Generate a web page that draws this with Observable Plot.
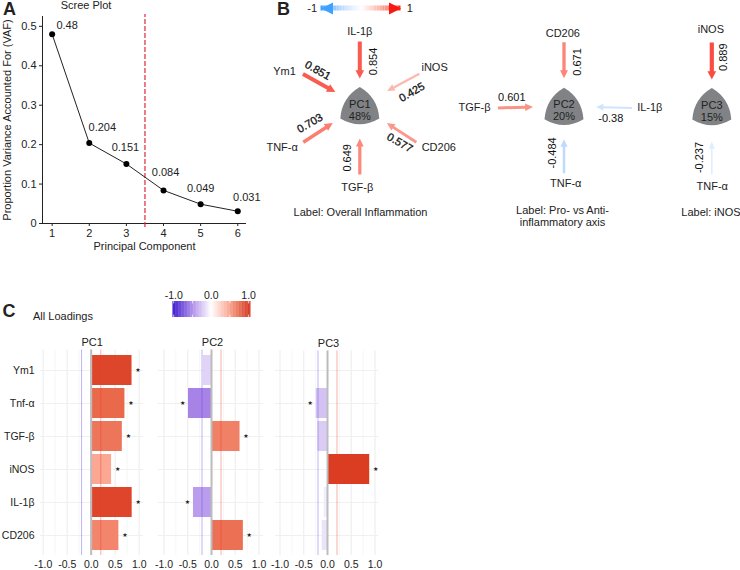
<!DOCTYPE html>
<html><head><meta charset="utf-8">
<script src="https://cdn.jsdelivr.net/npm/d3@7"></script>
<script src="https://cdn.jsdelivr.net/npm/@observablehq/plot@0.6"></script>
<style>
html,body{margin:0;padding:0;background:#fff;overflow:hidden}
#fig{position:relative;width:740px;height:570px;overflow:hidden;font-family:"Liberation Sans",Arial,sans-serif;color:#222}
#fig svg{position:absolute;overflow:visible}
.t{position:absolute;white-space:nowrap;font-size:11px;line-height:1;transform:translate(-50%,-50%)}
.l{position:absolute;font-weight:bold;font-size:18px;line-height:1;color:#222;transform:translate(-50%,-50%)}
</style></head><body><div id="fig"></div>
<script>
// ---- data ----
const components = [1, 2, 3, 4, 5, 6];
const vaf = [0.48, 0.204, 0.151, 0.084, 0.049, 0.031];
const pcNames = ["PC1", "PC2", "PC3"];
const pcShare = ["48%", "20%", "15%"];
const rowLabels = ["Ym1", "Tnf-α", "TGF-β", "iNOS", "IL-1β", "CD206"];
const nodeLabels = ["Ym1", "TNF-α", "TGF-β", "iNOS", "IL-1β", "CD206"];
const pc1Loadings = [0.851, 0.703, 0.649, 0.425, 0.854, 0.577];
const pc2Loadings = [-0.17, -0.484, 0.601, 0.05, -0.38, 0.671];
const pc3Loadings = [0.04, -0.237, -0.2, 0.889, -0.07, -0.11];
const pc1Stars = [1, 1, 1, 1, 1, 1];
const pc2Stars = [0, 1, 1, 0, 1, 1];
const pc3Stars = [0, 1, 0, 1, 0, 0];
const loadingTicks = [-1, -0.5, 0, 0.5, 1];

// ---- layout and style ----
const font = '"Liberation Sans",Arial,sans-serif';
const ink = "#222";
const fig = document.getElementById("fig");
function place(node, left, top) { node.style.left = left + "px"; node.style.top = top + "px"; fig.appendChild(node); }
function caption(text, cx, cy, cls = "t", size) {
  const d = document.createElement("div"); d.className = cls; d.textContent = text;
  d.style.left = cx + "px"; d.style.top = cy + "px"; if (size) d.style.fontSize = size + "px"; fig.appendChild(d);
}
const baseStyle = size => ({fontFamily: font, fontSize: size + "px", background: "transparent", color: ink, overflow: "visible"});

// ---- A: scree plot ----
const labelDx = [15, 13, -1, 2, 0, 9];
const labelDy = [-8.5, -15.6, -16.5, -18, -16, -14];
const scree = components.map((c, i) => ({c, v: vaf[i], dx: labelDx[i], dy: labelDy[i]}));
const screePlot = Plot.plot({
  width: 260, height: 260, marginLeft: 42, marginRight: 14, marginTop: 16, marginBottom: 37,
  style: baseStyle(11),
  x: {domain: [0.74, 6.235]},
  y: {domain: [0, 0.525]},
  marks: [
    Plot.ruleX([0.74], {stroke: ink}),
    Plot.ruleY([0], {stroke: ink}),
    Plot.axisX(components, {tickSize: 3, tickPadding: 3, fontSize: 11, stroke: ink, label: "Principal Component", labelAnchor: "center", labelArrow: "none", labelOffset: 26, tickFormat: d => d}),
    Plot.axisY([0, 0.1, 0.2, 0.3, 0.4, 0.5], {tickSize: 3, tickPadding: 3, fontSize: 11, stroke: ink, label: "Proportion Variance Accounted For (VAF)", labelAnchor: "center", labelArrow: "none", labelOffset: 39, tickFormat: d => d === 0 ? "0" : d.toFixed(1)}),
    Plot.ruleX([3.5], {y1: -0.01, y2: 0.53, stroke: "#e2283f", strokeDasharray: "5 2", strokeWidth: 1.2}),
    Plot.line(scree, {x: "c", y: "v", stroke: ink, strokeWidth: 1}),
    Plot.dot(scree, {x: "c", y: "v", r: 3, fill: "#000"}),
    ...scree.map(d => Plot.text([d], {x: "c", y: "v", text: e => String(e.v), dx: d.dx, dy: d.dy, fontSize: 11, fill: ink}))
  ]
});
place(screePlot, 0, 0);
caption("Scree Plot", 86, 5);
caption("A", 9.5, 9, "l");
caption("B", 283.5, 9, "l");
caption("C", 9, 311, "l");
caption("All Loadings", 63, 316);

// ---- B: loading networks ----
const pcCenters = [{x: 97.3, y: 105}, {x: 301.5, y: 105.7}, {x: 449.3, y: 106}];
const netColor = {type: "linear", clamp: true, domain: [-1, -0.45, 0, 0.42, 0.7, 0.86, 1], range: ["#3ea0ff", "#c6dfff", "#ffffff", "#fdb9ad", "#fb7f70", "#fb5a4e", "#f81a12"]};
const polar = (c, a, r) => ({x: c.x + r * Math.sin(a * Math.PI / 180), y: c.y - r * Math.cos(a * Math.PI / 180)});
// [pc, variable, arrow angle, inner, outer, name angle, name radius, value angle, value radius, value rotation]
const edgeLayout = [
  [0, 4, 0, 27, 64, 0, 74, 17.7, 46.2, -90],
  [0, 0, -61, 28, 65, -65.5, 82.7, -50.2, 54.7, 30],
  [0, 3, 62, 31, 67.5, 62.9, 84, 75.7, 53.7, -30],
  [0, 1, -123, 32.3, 67.4, -118.2, 88.1, -109.5, 53, -30],
  [0, 5, 123, 32.3, 67.4, 118.2, 89.6, 133, 54.7, 30],
  [0, 2, 180, 33, 69, 181.8, 81.7, 192.9, 53.7, -90],
  [1, 5, 0, 28, 64, -0.9, 73, 17, 46.3, -90],
  [1, 2, -91.5, 31, 66, -91.1, 89.5, -80.2, 53, 0],
  [1, 4, 91.5, 32, 68, 91.1, 85.8, 104.7, 48.4, 0],
  [1, 1, 180, 33, 67, 178.7, 77.7, -165.8, 48.2, -90],
  [2, 3, 0, 27, 64, -0.7, 76.7, 13.7, 50.7, -90],
  [2, 1, 180, 35, 68, 179.7, 80, -166.4, 52.5, -90]
];
const allLoadings = [pc1Loadings, pc2Loadings, pc3Loadings];
const edges = edgeLayout.map(([p, v, a, rin, rout, na, nr, va, vr, rot]) => {
  const c = pcCenters[p], value = allLoadings[p][v];
  return {value, name: nodeLabels[v], a, len: rout - rin, start: polar(c, a, rout), nameAt: polar(c, na, nr), valueAt: polar(c, va, vr), rot,
          heavy: p === 0 && rot !== -90};
});
const arrowShape = {draw(ctx, l, r) {
  const hl = 6.5 + r * 0.9, hw = r + 2.3;
  ctx.moveTo(-r, 0); ctx.lineTo(-r, -l + hl); ctx.lineTo(-hw, -l + hl); ctx.lineTo(0, -l);
  ctx.lineTo(hw, -l + hl); ctx.lineTo(r, -l + hl); ctx.lineTo(r, 0); ctx.closePath();
}};
const legendHead = {draw(ctx, l) { ctx.moveTo(0, -l); ctx.lineTo(6, 0); ctx.lineTo(-6, 0); ctx.closePath(); }};
const pcShape = {draw(ctx, size) {
  const s = Math.sqrt(size / Math.PI) / 20;
  ctx.moveTo(0, -18.5 * s);
  ctx.quadraticCurveTo(18 * s, -8 * s, 19.5 * s, 13 * s);
  ctx.quadraticCurveTo(0, 24.5 * s, -19.5 * s, 13 * s);
  ctx.quadraticCurveTo(-18 * s, -8 * s, 0, -18.5 * s);
  ctx.closePath();
}};
const legendX = v => 98.5 + v * 40;
const legendSteps = d3.range(-1, 1, 0.04);
const pcNodes = pcNames.map((n, i) => ({...pcCenters[i], n, share: pcShare[i]}));
const labelNotes = [
  {x: 98, y: 212, t: "Label: Overall Inflammation"},
  {x: 300, y: 210, t: "Label: Pro- vs Anti-"},
  {x: 300, y: 222.3, t: "inflammatory axis"},
  {x: 448.5, y: 212, t: "Label: iNOS"}
];
const netPlot = Plot.plot({
  width: 478, height: 235, margin: 0, style: baseStyle(11),
  x: {domain: [0, 478], axis: null},
  y: {domain: [235, 0], axis: null},
  color: netColor,
  marks: [
    Plot.rect(legendSteps, {x1: d => legendX(d), x2: d => legendX(d + 0.04), y1: () => 5.5, y2: () => 10.5, fill: d => d}),
    Plot.vector([-1], {x: () => legendX(-0.7), y: () => 8, length: 12, rotate: -90, anchor: "start", shape: legendHead, fill: d => d, stroke: "none"}),
    Plot.vector([1], {x: () => legendX(0.7), y: () => 8, length: 12, rotate: 90, anchor: "start", shape: legendHead, fill: d => d, stroke: "none"}),
    Plot.text([-1, 1], {x: d => legendX(d * 1.22), y: () => 8.3, text: d => String(d), fontSize: 11, fill: ink}),
    ...edges.map(e => Plot.vector([e], {x: d => d.start.x, y: d => d.start.y, length: e.len, rotate: e.a + 180, anchor: "start", r: 0.3 + 2 * Math.abs(e.value), shape: arrowShape, fill: d => d.value, stroke: "none"})),
    Plot.dot(pcNodes, {x: "x", y: "y", r: 20, symbol: pcShape, fill: "#808285", stroke: "none"}),
    Plot.text(pcNodes, {x: "x", y: d => d.y - 1.5, text: "n", fontSize: 11, fill: ink}),
    Plot.text(pcNodes, {x: "x", y: d => d.y + 10.5, text: "share", fontSize: 11, fill: ink}),
    Plot.text(edges, {x: d => d.nameAt.x, y: d => d.nameAt.y, text: "name", fontSize: 11, fill: ink}),
    Plot.text(edges, {x: d => d.valueAt.x, y: d => d.valueAt.y, text: d => String(d.value), rotate: "rot", fontSize: 11, fill: "#111", stroke: d => d.heavy ? "#111" : "none", strokeWidth: 0.3, paintOrder: "normal"}),
    Plot.text(labelNotes, {x: "x", y: "y", text: "t", fontSize: 11, fill: ink})
  ]
});
place(netPlot, 262, 0);

// ---- C: all loadings ----
const barColor = {type: "linear", clamp: true, domain: [-1, -0.48, 0, 0.43, 0.7, 1], range: ["#2a00c8", "#a884e8", "#ffffff", "#fba692", "#ea6a4c", "#d2220a"]};
const panels = [
  {name: "PC1", values: pc1Loadings, stars: pc1Stars, left: 0, top: 325, marginLeft: 40, plotW: 103, domain: [-1.056, 1.09]},
  {name: "PC2", values: pc2Loadings, stars: pc2Stars, left: 150, top: 325, marginLeft: 8, plotW: 105, domain: [-1.116, 1.095]},
  {name: "PC3", values: pc3Loadings, stars: pc3Stars, left: 267, top: 326, marginLeft: 8, plotW: 103, domain: [-1.095, 1.074]}
];
panels.forEach((p, idx) => {
  const rows = rowLabels.map((r, i) => ({r, v: p.values[i], star: p.stars[i]}));
  const svg = Plot.plot({
    width: p.marginLeft + p.plotW + 14, height: 245 - (idx === 2 ? 1 : 0),
    marginLeft: p.marginLeft, marginRight: 14, marginTop: 24.5, marginBottom: 15,
    style: baseStyle(10.5),
    x: {domain: p.domain},
    y: {domain: rowLabels, paddingInner: 0.1, paddingOuter: 0.13, axis: null},
    color: barColor,
    marks: [
      Plot.gridX(d3.range(-1, 1.01, 0.25), {stroke: "#f6f6f6", strokeOpacity: 1}),
      Plot.gridX(loadingTicks, {stroke: "#efefef", strokeOpacity: 1}),
      Plot.gridY(rowLabels, {stroke: "#f0f0f0", strokeOpacity: 1}),
      Plot.axisX(loadingTicks, {tickSize: 0, tickPadding: 5, fontSize: 10.5, label: null, tickFormat: d => d.toFixed(1)}),
      idx === 0 ? Plot.axisY(rowLabels, {tickSize: 0, tickPadding: 6, fontSize: 10.5, label: null}) : null,
      Plot.barX(rows, {x: "v", y: "r", fill: "v", stroke: "none"}),
      Plot.ruleX([-0.2], {stroke: "#5a46d8", strokeOpacity: 0.4, strokeWidth: 1}),
      Plot.ruleX([0.2], {stroke: "#ee3a2a", strokeOpacity: 0.4, strokeWidth: 1}),
      Plot.ruleX([0], {stroke: "#bcbcbc", strokeWidth: 2}),
      Plot.text(rows.filter(d => d.star), {x: d => d.v + Math.sign(d.v) * 0.125, y: "r", text: () => "★", fontSize: 6, fill: ink, fontFamily: "DejaVu Sans"}),
      Plot.text([p.name], {x: () => 0, frameAnchor: "top", dy: -11.5, dx: 1, text: d => d, fontSize: 11, fill: ink})
    ]
  });
  place(svg, p.left, p.top);
});

// colour bar of panel C
const barSteps = d3.range(-1.02, 1.05, 0.02);
const colorBar = Plot.plot({
  width: 100, height: 40, marginLeft: 12.5, marginRight: 10, marginTop: 16, marginBottom: 8,
  style: baseStyle(10.5),
  x: {domain: [-1.02, 1.05]},
  y: {domain: [0, 1], axis: null},
  color: barColor,
  marks: [
    Plot.rect(barSteps, {x1: d => d, x2: d => d + 0.022, y1: () => 0, y2: () => 1, fill: d => d}),
    Plot.ruleX(loadingTicks, {y1: () => 0, y2: () => 0.15, stroke: "#fff", strokeOpacity: 0.7}),
    Plot.ruleX(loadingTicks, {y1: () => 0.85, y2: () => 1, stroke: "#fff", strokeOpacity: 0.7}),
    Plot.axisX([-1, 0, 1], {anchor: "top", tickSize: 0, tickPadding: 3, fontSize: 10.5, label: null, tickFormat: d => d.toFixed(1)})
  ]
});
place(colorBar, 160, 285);
</script></body></html>
